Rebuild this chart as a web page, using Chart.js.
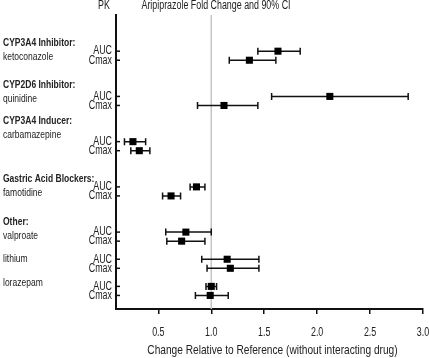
<!DOCTYPE html>
<html><head><meta charset="utf-8">
<script src="https://cdn.jsdelivr.net/npm/chart.js@4/dist/chart.umd.min.js"></script>
<style>html,body{margin:0;padding:0;background:#fff}#wrap{width:429px;height:358px}</style>
</head><body><div id="wrap"><canvas id="c" width="429" height="358"></canvas></div>
<script>
// ---- data ----
const groups = ['CYP3A4 Inhibitor:', 'CYP2D6 Inhibitor:', 'CYP3A4 Inducer:', 'Gastric Acid Blockers:', 'Other:', '', ''];
const drugs = ['ketoconazole', 'quinidine', 'carbamazepine', 'famotidine', 'valproate', 'lithium', 'lorazepam'];
const rowPos = [4, 9, 14, 19, 24, 27, 30]; // AUC row; Cmax row is next
const pkLabels = ['AUC', 'Cmax'];
const aucRatio = [1.63, 2.12, 0.26, 0.86, 0.76, 1.15, 1.00];
const aucLow   = [1.44, 1.57, 0.18, 0.80, 0.57, 0.91, 0.95];
const aucHigh  = [1.84, 2.86, 0.38, 0.94, 1.00, 1.45, 1.05];
const cmaxRatio = [1.36, 1.12, 0.32, 0.62, 0.72, 1.18, 0.99];
const cmaxLow   = [1.17, 0.87, 0.24, 0.54, 0.58, 0.96, 0.85];
const cmaxHigh  = [1.61, 1.44, 0.42, 0.71, 0.94, 1.45, 1.16];
const xTicks = [0.5, 1.0, 1.5, 2.0, 2.5, 3.0];
const refValue = 1.0;
const xTitle = 'Change Relative to Reference (without interacting drug)';
const colTitlePK = 'PK';
const colTitleMain = 'Aripiprazole Fold Change and 90% CI';

// ---- layout constants ----
const drugLabelDy = [6, 2, -7, 6, 4, 0, -4];
const FONT = "'Liberation Sans', Arial, sans-serif";
const SX = 0.74; // horizontal condensing to mimic a narrow face
const TXT = '#222';

const points = [], whiskers = [];
rowPos.forEach((p, i) => {
  points.push({x: aucRatio[i], y: p});
  points.push({x: cmaxRatio[i], y: p + 1});
  whiskers.push({lo: aucLow[i], hi: aucHigh[i], y: p});
  whiskers.push({lo: cmaxLow[i], hi: cmaxHigh[i], y: p + 1});
});
const yTickVals = [];
rowPos.forEach(p => { yTickVals.push(p, p + 1); });

function txt(ctx, s, x, y, align, bold, size, sx) {
  ctx.save();
  ctx.font = (bold ? 'bold ' : '') + (size || 11) + 'px ' + FONT;
  ctx.fillStyle = TXT;
  ctx.textBaseline = 'middle';
  ctx.textAlign = align;
  ctx.translate(x, y);
  ctx.scale(sx || SX, 1);
  ctx.fillText(s, 0, 0);
  ctx.restore();
}

const overlay = {
  id: 'overlay',
  beforeDatasetsDraw(chart) {
    const {ctx, chartArea: a, scales: {x, y}} = chart;
    ctx.save();
    const rx = x.getPixelForValue(refValue);
    ctx.strokeStyle = '#c4c4c4'; ctx.lineWidth = 1.5;
    ctx.beginPath(); ctx.moveTo(rx, a.top); ctx.lineTo(rx, a.bottom); ctx.stroke();
    ctx.strokeStyle = '#111'; ctx.lineWidth = 1.5;
    whiskers.forEach(w => {
      const py = y.getPixelForValue(w.y), x1 = x.getPixelForValue(w.lo), x2 = x.getPixelForValue(w.hi);
      ctx.beginPath();
      ctx.moveTo(x1, py); ctx.lineTo(x2, py);
      ctx.moveTo(x1, py - 3.5); ctx.lineTo(x1, py + 3.5);
      ctx.moveTo(x2, py - 3.5); ctx.lineTo(x2, py + 3.5);
      ctx.stroke();
    });
    yTickVals.forEach(v => {
      const py = y.getPixelForValue(v);
      ctx.beginPath(); ctx.moveTo(a.left, py); ctx.lineTo(a.left + 4, py); ctx.stroke();
    });
    ctx.restore();
  },
  afterDraw(chart) {
    const {chartArea: a, scales: {x, y}} = chart;
    const ctx = chart.ctx;
    rowPos.forEach((p, i) => {
      const dy = y.getPixelForValue(p) + drugLabelDy[i];
      txt(ctx, drugs[i], 3, dy, 'left', false, 11.5);
      if (groups[i]) txt(ctx, groups[i], 3, dy - 14, 'left', true, 11.5);
    });
    yTickVals.forEach((v, i) => {
      txt(ctx, pkLabels[i % 2], a.left - 4, y.getPixelForValue(v), 'right', false, 12);
    });
    xTicks.forEach(v => {
      txt(ctx, v.toFixed(1), x.getPixelForValue(v), a.bottom + 24, 'center', false, 12);
    });
    txt(ctx, xTitle, (a.left + a.right) / 2 + 3, a.bottom + 41, 'center', false, 13, 0.78);
    txt(ctx, colTitlePK, 104, 6, 'center', false, 12);
    txt(ctx, colTitleMain, 216, 6, 'center', false, 12);
  }
};

new Chart(document.getElementById('c'), {
  type: 'scatter',
  data: {
    datasets: [{
      data: points,
      pointStyle: 'rect',
      pointRadius: 5,
      pointHoverRadius: 5,
      backgroundColor: '#000',
      borderColor: '#000',
      borderWidth: 0
    }]
  },
  options: {
    responsive: false,
    animation: false,
    devicePixelRatio: 1,
    layout: {padding: {top: 15, right: 6, left: 0, bottom: 0}},
    plugins: {legend: {display: false}, tooltip: {enabled: false}},
    scales: {
      x: {
        type: 'linear', min: 0.1, max: 3.0,
        afterBuildTicks: s => { s.ticks = xTicks.map(v => ({value: v})); },
        afterFit: s => { s.height = 49; s.paddingLeft = 0; s.paddingRight = 0; },
        ticks: {display: false},
        grid: {drawOnChartArea: false, color: '#111', tickLength: 5, lineWidth: 1.5},
        border: {color: '#111', width: 2}
      },
      y: {
        type: 'linear', min: 0, max: 32.5, reverse: true,
        afterBuildTicks: s => { s.ticks = yTickVals.map(v => ({value: v})); },
        afterFit: s => { s.width = 116; s.paddingTop = 0; s.paddingBottom = 0; },
        ticks: {display: false},
        grid: {display: false},
        border: {color: '#111', width: 2}
      }
    }
  },
  plugins: [overlay]
});
</script></body></html>
